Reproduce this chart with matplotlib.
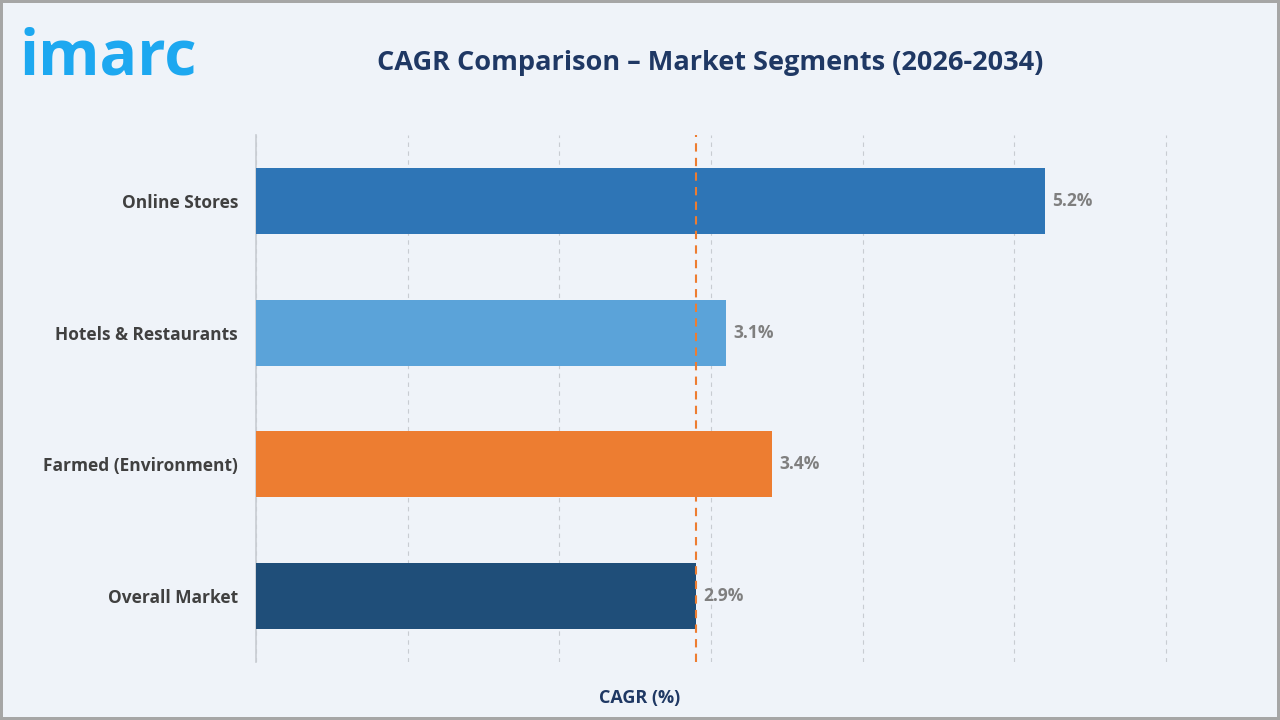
import matplotlib.pyplot as plt

categories = ["Online Stores", "Hotels & Restaurants", "Farmed (Environment)", "Overall Market"]
cagr = [5.2, 3.1, 3.4, 2.9]
bar_colors = ["#2e75b6", "#5ba3d9", "#ed7d31", "#1f4e79"]
reference_value = 2.9

plt.rcParams['font.family'] = ['Open Sans', 'DejaVu Sans']

fig = plt.figure(figsize=(12.8, 7.2), dpi=100, facecolor="#eff3f9",
                 edgecolor="#a6a6a6", linewidth=3)
ax = fig.add_axes([0.2, 0.0806, 0.7133, 0.7319])
ax.set_facecolor("#eff3f9")

ypos = list(range(len(categories)))
ax.barh(ypos, cagr, height=0.5, color=bar_colors, zorder=3)
for y, v in zip(ypos, cagr):
    ax.text(v + 0.05, y, f"{v}%", va="center", ha="left", fontsize=12.5,
            fontweight="bold", color="#7f7f7f", zorder=4)

ax.axvline(reference_value, color="#ed7d31", linestyle=(0, (4, 3)), linewidth=1.5, zorder=4)

ax.set_xlim(0, 6.02)
ax.set_ylim(3.5, -0.5)
ax.set_xticks(range(0, 7))
ax.set_xticklabels([])
ax.tick_params(axis="x", length=0)
ax.tick_params(axis="y", length=0, pad=13)
ax.set_yticks(ypos)
ax.set_yticklabels(categories, fontsize=12.5, fontweight="bold", color="#404040")
ax.grid(axis="x", color="#c8ccd2", linestyle=(0, (4, 4)), linewidth=0.8, zorder=0)
for s in ["top", "right", "bottom"]:
    ax.spines[s].set_visible(False)
ax.spines["left"].set_color("#c8ccd2")
ax.spines["left"].set_linewidth(1.2)

fig.text(0.5, 0.031, "CAGR (%)", ha="center", va="center", fontsize=13,
         fontweight="bold", color="#1f3864")

fig.text(0.555, 0.913, "CAGR Comparison – Market Segments (2026-2034)", ha="center",
         va="center", fontsize=19.5, fontweight="bold", color="#1f3864")
fig.text(0.015, 0.92, "imarc", ha="left", va="center", fontsize=45, fontweight="bold",
         color="#1da8f0")

fig.savefig("out.png", dpi=100, facecolor=fig.get_facecolor(), edgecolor=fig.get_edgecolor())
